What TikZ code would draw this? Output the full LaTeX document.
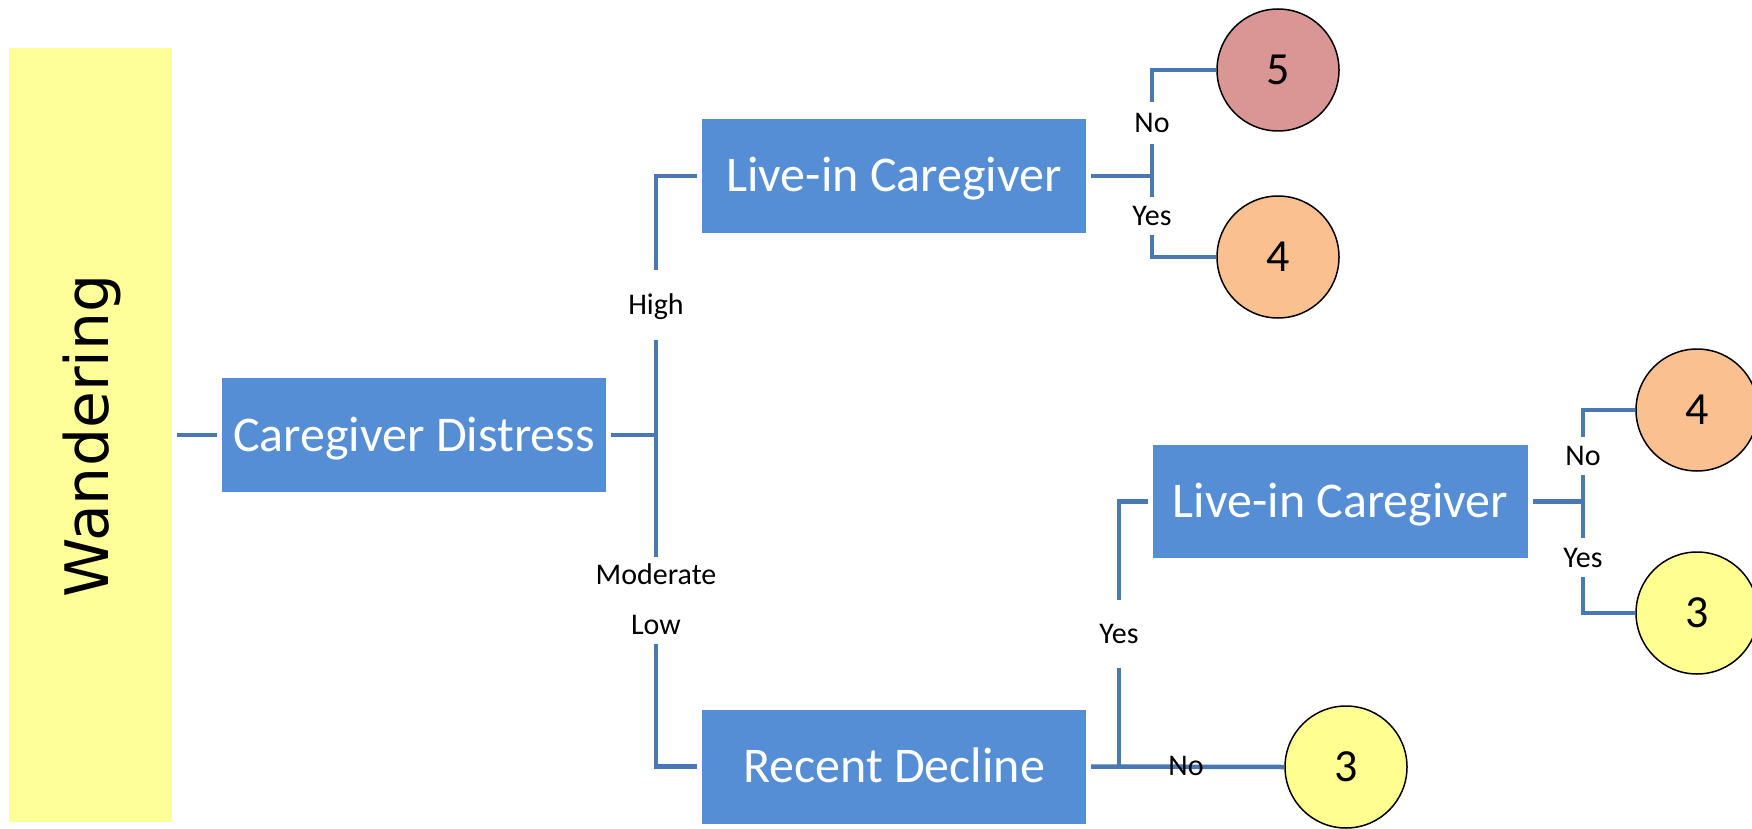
\documentclass[tikz,border=0pt]{standalone}
\usepackage{fontspec}
\setmainfont{Carlito}
\newfontfamily\wandfont{DejaVu Sans}
\definecolor{boxblue}{RGB}{85,142,213}
\definecolor{linkblue}{RGB}{74,120,178}
\definecolor{barYellow}{RGB}{255,255,153}
\definecolor{scoreRed}{RGB}{217,150,148}
\definecolor{scorePeach}{RGB}{250,192,144}
\definecolor{scoreYellow}{RGB}{255,255,145}
\begin{document}
\begin{tikzpicture}[x=1pt,y=-1pt,
  decision/.style={rectangle, fill=boxblue, text=white, minimum width=384pt,
    minimum height=114pt, inner sep=0pt, outer sep=5pt,
    font=\fontsize{50}{60}\selectfont, text height=32pt, text depth=0pt},
  score/.style={circle, draw=black, line width=1.5pt, minimum size=122pt,
    inner sep=0pt, font=\fontsize{46}{55}\selectfont, text height=29pt, text depth=0pt},
  branch/.style={inner sep=0pt, font=\fontsize{30}{36}\selectfont,
    text height=19pt, text depth=0pt},
  link/.style={draw=linkblue, line width=4.5pt}
]
\useasboundingbox (0,0) rectangle (1752,829);

% title bar
\node[fill=barYellow, minimum width=163pt, minimum height=774pt, inner sep=0pt,
  outer sep=5pt] (bar) at (90.5,435) {};
\node[rotate=90, inner sep=0pt, font=\wandfont\fontsize{60}{72}\selectfont]
  (wtxt) at (92,436) {Wandering};

% decision boxes
\node[decision] (cd) at (414,435) {Caregiver Distress};
\node[decision] (lic1) at (894,176) {Live-in Caregiver};
\node[decision] (rd) at (894,766.5) {Recent Decline};
\node[decision, minimum width=375pt, minimum height=113pt] (lic2) at (1340.5,501.5) {Live-in Caregiver};

% outcome scores
\node[score, fill=scoreRed] (c5) at (1278,70) {5};
\node[score, fill=scorePeach] (c4a) at (1278,257) {4};
\node[score, fill=scoreYellow] (c3b) at (1346,767) {3};
\node[score, fill=scorePeach] (c4b) at (1697,410) {4};
\node[score, fill=scoreYellow] (c3a) at (1697,613) {3};

% branch labels (their heights set the gaps in the lines)
\node[branch, minimum height=70pt] (high) at (656,305) {High};
\node[branch, minimum height=36pt] (mod) at (656,575) {Moderate};
\node[branch, minimum height=38pt] (low) at (656,625) {Low};
\node[branch, minimum height=42pt] (no1) at (1152,123) {No};
\node[branch, minimum height=38pt] (yes1) at (1152,216) {Yes};
\node[branch, minimum height=68pt] (yes2) at (1119,634) {Yes};
\node[branch, minimum height=37pt] (no3) at (1583,456) {No};
\node[branch, minimum height=39pt] (yes3) at (1583,557.5) {Yes};

% connectors
\draw[link] (bar.east) -- (cd.west);
\draw[link] (cd.east) -- (cd.east -| high.center);
\draw[link] (high.south) -- (mod.north);
\draw[link] (high.north) |- (lic1.west);
\draw[link] (low.south) |- (rd.west);

\draw[link] (lic1.east) -- (lic1.east -| no1.center);
\draw[link] (no1.north) |- (c5.west);
\draw[link] (no1.south) -- (yes1.north);
\draw[link] (yes1.south) |- (c4a.west);

\draw[link] (rd.east) -- (c3b.west);
\draw[link] (rd.east -| yes2.center) -- (yes2.south);
\draw[link] (yes2.north) |- (lic2.west);
\node[branch] (nob) at (1186,766) {No};

\draw[link] (lic2.east) -- (lic2.east -| no3.center);
\draw[link] (no3.north) |- (c4b.west);
\draw[link] (no3.south) -- (yes3.north);
\draw[link] (yes3.south) |- (c3a.west);
\end{tikzpicture}
\end{document}
